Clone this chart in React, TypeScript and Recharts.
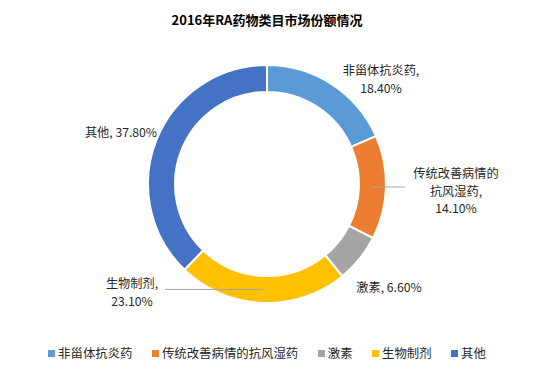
import React from 'react';
import { PieChart, Pie, Cell, Legend } from 'recharts';

const categories = ['非甾体抗炎药', '传统改善病情的抗风湿药', '激素', '生物制剂', '其他'];
const shares = [18.4, 14.1, 6.6, 23.1, 37.8];
const colors = ['#5B9BD5', '#ED7D31', '#A5A5A5', '#FFC000', '#4472C4'];

// how each data label is split over lines
const labelText = [
  ['非甾体抗炎药,', '18.40%'],
  ['传统改善病情的', '抗风湿药,', '14.10%'],
  ['激素, 6.60%'],
  ['生物制剂,', '23.10%'],
  ['其他, 37.80%'],
];

// label placement relative to the pie centre; leaderX = end of leader line (null = none)
const labelLayout = [
  { dx: 114, dy: -114, leaderX: null },
  { dx: 189, dy: -11, leaderX: 138 },
  { dx: 122, dy: 103, leaderX: null },
  { dx: -135, dy: 99, leaderX: -102 },
  { dx: -146, dy: -52, leaderX: null },
];

const data = categories.map((name, i) => ({ name, value: shares[i] }));

const FONT = '"Noto Sans CJK SC", "Noto Sans", sans-serif';
const RAD = Math.PI / 180;

const renderLabel = (props: any) => {
  const { cx, cy, midAngle, innerRadius, outerRadius, index } = props;
  const lay = labelLayout[index];
  const lines = labelText[index];
  const lh = 17.5;
  const x = cx + lay.dx;
  const y0 = cy + lay.dy;
  let leader = null;
  if (lay.leaderX !== null) {
    const r = (innerRadius + outerRadius) / 2;
    const sx = cx + r * Math.cos(-midAngle * RAD);
    const sy = cy + r * Math.sin(-midAngle * RAD);
    leader = <line x1={sx} y1={sy} x2={cx + lay.leaderX} y2={sy} stroke="#A6A6A6" strokeWidth={1} />;
  }
  return (
    <g key={`lbl-${index}`}>
      {leader}
      {lines.map((t, j) => (
        <text
          key={j}
          x={x}
          y={y0 + j * lh}
          textAnchor="middle"
          dominantBaseline="central"
          fontFamily={FONT}
          fontSize={12.2}
          fill="#262626"
        >
          {t}
        </text>
      ))}
    </g>
  );
};

const renderLegend = () => (
  <div style={{ display: 'flex', justifyContent: 'center', alignItems: 'center', fontFamily: FONT, fontSize: 12.4, color: '#262626' }}>
    {categories.map((c, i) => (
      <div key={c} style={{ display: 'flex', alignItems: 'center', marginRight: i < categories.length - 1 ? 19.5 : 0 }}>
        <span style={{ display: 'inline-block', width: 7, height: 7, background: colors[i], marginRight: 3 }} />
        <span>{c}</span>
      </div>
    ))}
  </div>
);

const App: React.FC = () => {
  return (
    <div style={{ position: 'absolute', left: 0, top: 0, width: 534, height: 373, background: '#fff' }}>
      <PieChart width={534} height={373} margin={{ top: 0, right: 0, bottom: 0, left: 0 }}>
        <text x={267} y={19} textAnchor="middle" dominantBaseline="central" fontFamily={FONT} fontSize={13} fontWeight="bold" fill="#000">
          2016年RA药物类目市场份额情况
        </text>
        <Pie
          data={data}
          dataKey="value"
          nameKey="name"
          cx={267}
          cy={184}
          innerRadius={92}
          outerRadius={119}
          startAngle={90}
          endAngle={-270}
          stroke="#fff"
          strokeWidth={2}
          label={renderLabel}
          labelLine={false}
          isAnimationActive={false}
        >
          {data.map((d, i) => (
            <Cell key={d.name} fill={colors[i]} />
          ))}
        </Pie>
        <Legend
          verticalAlign="bottom"
          align="center"
          content={renderLegend}
          wrapperStyle={{ bottom: 11, lineHeight: '18px' }}
        />
      </PieChart>
    </div>
  );
};

export default App;
